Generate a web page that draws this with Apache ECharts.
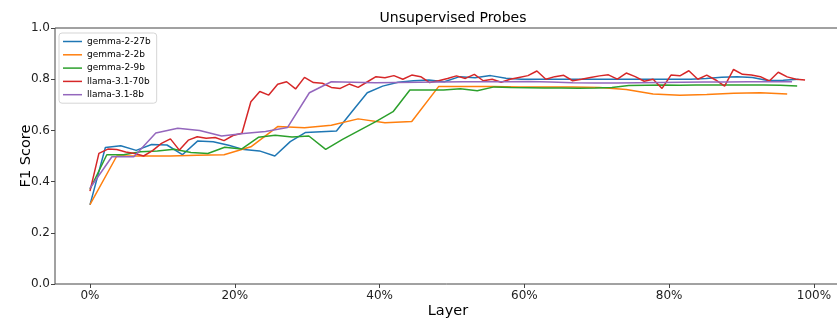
<!DOCTYPE html>
<html>
<head>
<meta charset="utf-8">
<script src="https://cdn.jsdelivr.net/npm/echarts@6/dist/echarts.min.js"></script>
<style>
  html, body { margin: 0; padding: 0; background: #fff; }
  #main { width: 837px; height: 318px; }
</style>
</head>
<body>
<div id="main"></div>
<script>
// F1 score per layer, x = layer / number of points
var gemma27b = [0.309, 0.533, 0.54, 0.522, 0.545, 0.543, 0.505, 0.559, 0.556, 0.542,
  0.525, 0.52, 0.50, 0.556, 0.592, 0.595, 0.598, 0.673, 0.747, 0.773,
  0.788, 0.794, 0.797, 0.79, 0.81, 0.806, 0.814, 0.804, 0.80, 0.80,
  0.80, 0.80, 0.80, 0.80, 0.80, 0.80, 0.80, 0.80, 0.80, 0.80,
  0.803, 0.808, 0.81, 0.807, 0.795, 0.796, 0.80];
var gemma2b = [0.31, 0.50, 0.50, 0.50, 0.503, 0.505, 0.536, 0.615, 0.61, 0.62,
  0.645, 0.63, 0.635, 0.771, 0.771, 0.771, 0.77, 0.77, 0.77, 0.768,
  0.76, 0.742, 0.737, 0.74, 0.745, 0.747, 0.742];
var gemma9b = [0.37, 0.505, 0.505, 0.517, 0.52, 0.526, 0.514, 0.51, 0.534, 0.527,
  0.573, 0.581, 0.574, 0.578, 0.526, 0.565, 0.60, 0.635, 0.673, 0.758,
  0.758, 0.758, 0.763, 0.755, 0.77, 0.768, 0.767, 0.766, 0.766, 0.765,
  0.766, 0.768, 0.775, 0.776, 0.777, 0.776, 0.777, 0.777, 0.777, 0.777,
  0.777, 0.776, 0.773];
var llama70b = [0.363, 0.51, 0.527, 0.525, 0.516, 0.51, 0.50, 0.521, 0.549, 0.567,
  0.523, 0.562, 0.575, 0.569, 0.572, 0.56, 0.58, 0.589, 0.712, 0.752,
  0.738, 0.78, 0.79, 0.762, 0.807, 0.787, 0.784, 0.768, 0.764, 0.781,
  0.768, 0.789, 0.81, 0.806, 0.814, 0.80, 0.816, 0.81, 0.787, 0.794,
  0.803, 0.813, 0.803, 0.819, 0.794, 0.80, 0.788, 0.80, 0.807, 0.814,
  0.832, 0.80, 0.81, 0.815, 0.794, 0.80, 0.807, 0.813, 0.817, 0.80,
  0.824, 0.81, 0.792, 0.80, 0.764, 0.816, 0.813, 0.833, 0.80, 0.816,
  0.797, 0.773, 0.838, 0.819, 0.816, 0.81, 0.793, 0.827, 0.809, 0.80,
  0.797];
var llama8b = [0.374, 0.497, 0.497, 0.59, 0.608, 0.60, 0.578, 0.588, 0.596, 0.611,
  0.747, 0.79, 0.788, 0.786, 0.787, 0.788, 0.789, 0.79, 0.79, 0.79,
  0.791, 0.789, 0.786, 0.785, 0.785, 0.786, 0.787, 0.788, 0.789, 0.789,
  0.79, 0.79, 0.79];

var names = ["gemma-2-27b", "gemma-2-2b", "gemma-2-9b", "llama-3.1-70b", "llama-3.1-8b"];
var colors = ["#1f77b4", "#ff7f0e", "#2ca02c", "#d62728", "#9467bd"];
var xTicks = [0, 0.2, 0.4, 0.6, 0.8, 1.0];

function toPoints(vals) {
  return vals.map(function (v, i) { return [i / vals.length, v]; });
}

var allData = [gemma27b, gemma2b, gemma9b, llama70b, llama8b];

var myChart = echarts.init(document.getElementById("main"));

var font = "DejaVu Sans";

var option = {
  animation: false,
  color: colors,
  title: {
    text: "Unsupervised Probes",
    left: 448,
    top: 6,
    textAlign: "center",
    textStyle: { fontFamily: font, fontSize: 14, fontWeight: "normal", color: "#000" }
  },
  legend: {
    data: names,
    orient: "vertical",
    left: 59,
    top: 33,
    icon: "rect",
    itemWidth: 19,
    itemHeight: 1.5,
    itemGap: 4.3,
    padding: [4, 6, 4, 4],
    borderColor: "#d5d5d5",
    borderWidth: 1,
    borderRadius: 3,
    backgroundColor: "rgba(255,255,255,0.8)",
    textStyle: { fontFamily: font, fontSize: 9, color: "#000", lineHeight: 9 }
  },
  grid: {
    left: 55,
    right: -4,
    top: 28,
    bottom: 34,
    containLabel: false,
    outerBoundsMode: "none",
    show: true,
    borderColor: "#444",
    borderWidth: 1
  },
  xAxis: {
    type: "value",
    min: -0.0483,
    max: 1.0373,
    name: "Layer",
    nameLocation: "middle",
    nameGap: 20,
    nameMoveOverlap: false,
    nameTextStyle: { fontFamily: font, fontSize: 14.5, color: "#000" },
    axisLine: { show: false, onZero: false },
    axisTick: { show: true, length: 4, lineStyle: { color: "#444" }, customValues: xTicks },
    axisLabel: {
      customValues: xTicks,
      fontFamily: font, fontSize: 12, color: "#222", margin: 6,
      formatter: function (v) { return Math.round(v * 100) + "%"; }
    },
    splitLine: { show: false }
  },
  yAxis: {
    type: "value",
    min: 0,
    max: 1,
    interval: 0.2,
    name: "F1 Score",
    nameLocation: "middle",
    nameGap: 21,
    nameMoveOverlap: false,
    nameTextStyle: { fontFamily: font, fontSize: 14.5, color: "#000" },
    axisLine: { show: false, onZero: false },
    axisTick: { show: true, length: 4, lineStyle: { color: "#444" } },
    axisLabel: {
      fontFamily: font, fontSize: 12, color: "#222", margin: 5,
      formatter: function (v) { return v.toFixed(1); }
    },
    splitLine: { show: false }
  },
  series: names.map(function (n, k) {
    return {
      name: n,
      type: "line",
      showSymbol: false,
      symbol: "none",
      lineStyle: { width: 1.5 },
      data: toPoints(allData[k])
    };
  })
};

myChart.setOption(option);
</script>
</body>
</html>
